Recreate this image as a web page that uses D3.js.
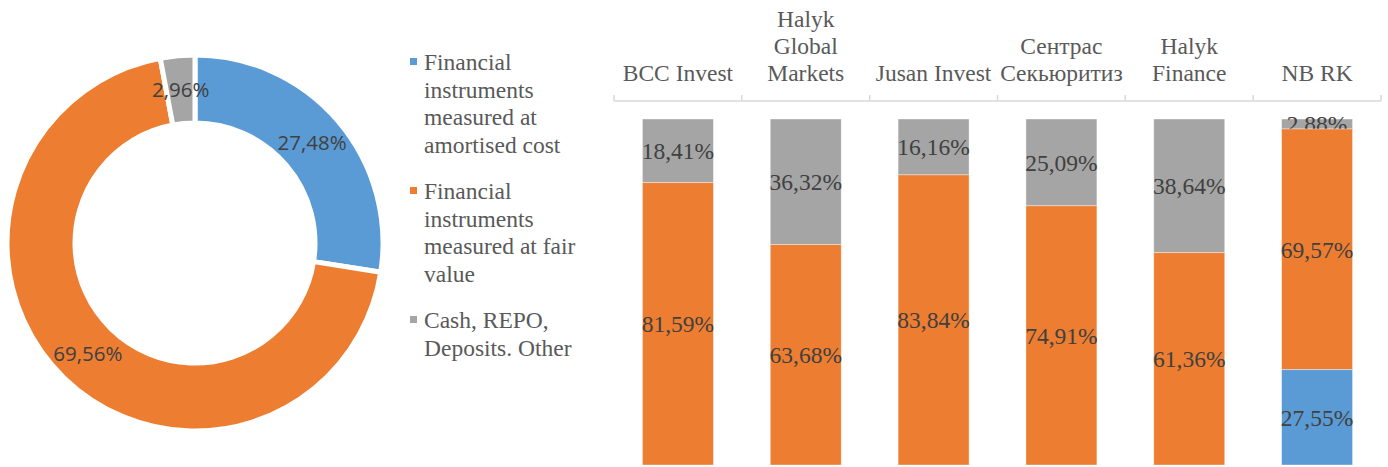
<!DOCTYPE html>
<html>
<head>
<meta charset="utf-8">
<script src="https://cdn.jsdelivr.net/npm/d3@7"></script>
<style>
  body { margin: 0; background: #fff; }
  svg { display: block; }
  .serif { font-family: "Liberation Serif", "Times New Roman", Times, "DejaVu Serif", serif; }
  .sans { font-family: "Open Sans", "Noto Sans", sans-serif; }
</style>
</head>
<body>
<svg id="chart" width="1388" height="467"></svg>
<script>
// data
var seriesNames = ["Financial instruments measured at amortised cost",
                   "Financial instruments measured at fair value",
                   "Cash, REPO, Deposits. Other"];
var legendLines = [["Financial", "instruments", "measured at", "amortised cost"],
                   ["Financial", "instruments", "measured at fair", "value"],
                   ["Cash, REPO,", "Deposits. Other"]];
var donutValues = [27.48, 69.56, 2.96];

var categories = ["BCC Invest", "Halyk Global Markets", "Jusan Invest", "Сентрас Секьюритиз", "Halyk Finance", "NB RK"];
var categoryLines = [["BCC Invest"], ["Halyk", "Global", "Markets"], ["Jusan Invest"], ["Сентрас", "Секьюритиз"], ["Halyk", "Finance"], ["NB RK"]];
var amortised = [0, 0, 0, 0, 0, 27.55];
var fairValue = [81.59, 63.68, 83.84, 74.91, 61.36, 69.57];
var cashOther = [18.41, 36.32, 16.16, 25.09, 38.64, 2.88];

var colors = ["#5b9bd5", "#ed7d31", "#a5a5a5"];
var fmt = function(v){ return v.toFixed(2).replace(".", ",") + "%"; };

var svg = d3.select("#chart");

// donut
var cx = 195, cy = 243, rOut = 188, rIn = 120;
var pie = d3.pie().sort(null).value(function(d){ return d; });
var arc = d3.arc().innerRadius(rIn).outerRadius(rOut);
var labelArc = d3.arc().innerRadius(154).outerRadius(154);

var donut = svg.append("g").attr("transform", "translate(" + cx + "," + cy + ")");
var slices = pie(donutValues);

donut.selectAll("path")
  .data(slices)
  .enter()
  .append("path")
  .attr("d", arc)
  .attr("fill", function(d, i){ return colors[i]; })
  .attr("stroke", "#fff")
  .attr("stroke-width", 5);

donut.selectAll("text")
  .data(slices)
  .enter()
  .append("text")
  .attr("class", "sans")
  .attr("transform", function(d){ return "translate(" + labelArc.centroid(d) + ")"; })
  .attr("text-anchor", "middle")
  .attr("dy", "0.36em")
  .attr("font-size", 20.5)
  .attr("fill", "#404040")
  .text(function(d){ return fmt(d.data); });

// legend
var legend = svg.append("g").attr("class", "serif")
  .attr("font-size", 23.5).attr("fill", "#595959");
var lineH = 27.5, itemGap = 19, ly = 70;
legendLines.forEach(function(lines, i){
  legend.append("rect")
    .attr("x", 410).attr("y", ly - 12)
    .attr("width", 7).attr("height", 7)
    .attr("fill", colors[i]);
  var t = legend.append("text").attr("x", 424).attr("y", ly);
  lines.forEach(function(l, j){
    t.append("tspan").attr("x", 424).attr("y", ly + j * lineH).text(l);
  });
  ly += lines.length * lineH + itemGap;
});

// stacked bars
var x = d3.scaleBand().domain(categories).range([614, 1381]).paddingInner(0.445).paddingOuter(0.2225);
var y = d3.scaleLinear().domain([0, 100]).range([119, 465]);

var rows = categories.map(function(c, i){
  return { cat: c, cash: cashOther[i], fair: fairValue[i], amort: amortised[i] };
});
var keys = ["cash", "fair", "amort"];
var keyColor = { cash: colors[2], fair: colors[1], amort: colors[0] };
var stacked = d3.stack().keys(keys)(rows);

var barG = svg.append("g");
var layers = barG.selectAll("g.layer")
  .data(stacked)
  .enter()
  .append("g")
  .attr("class", "layer")
  .attr("fill", function(d){ return keyColor[d.key]; });

layers.selectAll("rect")
  .data(function(d){ return d.filter(function(p){ return p[1] - p[0] > 0; }); })
  .enter()
  .append("rect")
  .attr("x", function(d){ return x(d.data.cat); })
  .attr("y", function(d){ return y(d[0]); })
  .attr("width", x.bandwidth())
  .attr("height", function(d){ return y(d[1]) - y(d[0]); })
  .attr("stroke", "#fff")
  .attr("stroke-opacity", 0.5)
  .attr("stroke-width", 0.75);

layers.selectAll("text")
  .data(function(d){ return d.filter(function(p){ return p[1] - p[0] > 0; }); })
  .enter()
  .append("text")
  .attr("class", "serif")
  .attr("x", function(d){ return x(d.data.cat) + x.bandwidth() / 2; })
  .attr("y", function(d){ return (y(d[0]) + y(d[1])) / 2; })
  .attr("dy", "0.35em")
  .attr("text-anchor", "middle")
  .attr("font-size", 23.5)
  .attr("fill", "#404040")
  .text(function(d){ return fmt(d[1] - d[0]); });

// category axis on top
var axisY = 101;
var axisG = svg.append("g");
axisG.append("line")
  .attr("x1", 614).attr("x2", 1381)
  .attr("y1", axisY).attr("y2", axisY)
  .attr("stroke", "#d9d9d9").attr("stroke-width", 1.5);

var tickXs = categories.map(function(c){ return x(c) - x.step() * x.paddingInner() / 2; });
tickXs.push(1381);
axisG.selectAll("line.tick")
  .data(tickXs)
  .enter()
  .append("line")
  .attr("class", "tick")
  .attr("x1", function(d){ return d; }).attr("x2", function(d){ return d; })
  .attr("y1", axisY - 6).attr("y2", axisY)
  .attr("stroke", "#d9d9d9").attr("stroke-width", 1.5);

categories.forEach(function(c, i){
  var lines = categoryLines[i];
  var t = axisG.append("text")
    .attr("class", "serif")
    .attr("text-anchor", "middle")
    .attr("font-size", 23.5)
    .attr("fill", "#595959");
  lines.forEach(function(l, j){
    t.append("tspan")
      .attr("x", x(c) + x.bandwidth() / 2)
      .attr("y", 81 - (lines.length - 1 - j) * 27)
      .text(l);
  });
});
</script>
</body>
</html>
